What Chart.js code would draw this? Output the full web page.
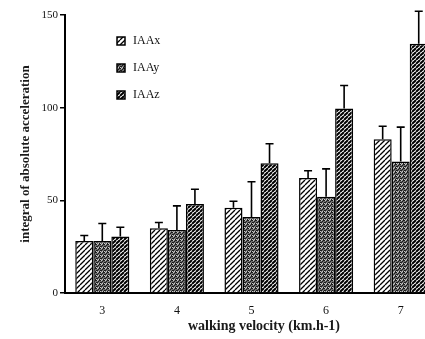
<!DOCTYPE html>
<html>
<head>
<meta charset="utf-8">
<script src="https://cdn.jsdelivr.net/npm/chart.js@4/dist/chart.umd.min.js"></script>
<style>
  html, body { margin: 0; padding: 0; background: #fff; overflow: hidden; }
  #wrap { width: 442px; height: 339px; position: relative; }
</style>
</head>
<body>
<div id="wrap"><canvas id="chart"></canvas></div>
<script>
// walking velocity categories
const velocities = ['3', '4', '5', '6', '7'];

// bar heights
const iaaX = [28, 35, 46, 62, 83];
const iaaY = [28, 34, 41, 52, 71];
const iaaZ = [30.5, 48, 70, 99.5, 134.5];

// top of the error bars
const iaaXErr = [31, 38, 49.5, 66, 90];
const iaaYErr = [37.5, 47, 60, 67, 89.5];
const iaaZErr = [35.5, 56, 80.5, 112, 152];

const seriesNames = ['IAAx', 'IAAy', 'IAAz'];
const yTicks = [0, 50, 100, 150];
const xTitle = 'walking velocity (km.h-1)';

// hatch / stipple fills like the scanned figure
function hatch(spacing, width, bg) {
  const c = document.createElement('canvas');
  c.width = spacing; c.height = spacing;
  const g = c.getContext('2d');
  g.fillStyle = bg;
  g.fillRect(0, 0, spacing, spacing);
  g.strokeStyle = '#000';
  g.lineWidth = width;
  g.beginPath();
  for (let k = -1; k <= 1; k++) {
    g.moveTo(k * spacing, spacing);
    g.lineTo(k * spacing + spacing, 0);
  }
  g.stroke();
  return g.createPattern(c, 'repeat');
}

function stipple() {
  const c = document.createElement('canvas');
  c.width = 4; c.height = 4;
  const g = c.getContext('2d');
  g.fillStyle = '#6e6e6e';
  g.fillRect(0, 0, 4, 4);
  g.fillStyle = '#1a1a1a';
  [[0, 0], [2, 1], [1, 2], [3, 3], [3, 0], [0, 2]].forEach(p => g.fillRect(p[0], p[1], 1, 1));
  g.fillStyle = '#c8c8c8';
  [[1, 0], [0, 3], [2, 3]].forEach(p => g.fillRect(p[0], p[1], 1, 1));
  return g.createPattern(c, 'repeat');
}

const fills = [hatch(5, 1.3, '#fff'), stipple(), hatch(4, 2, '#fff')];

const errorBars = {
  id: 'errorBars',
  afterDatasetsDraw(chart) {
    const ctx = chart.ctx;
    const y = chart.scales.y;
    ctx.save();
    ctx.strokeStyle = '#000';
    ctx.lineWidth = 1.6;
    chart.data.datasets.forEach((ds, i) => {
      chart.getDatasetMeta(i).data.forEach((bar, j) => {
        const top = y.getPixelForValue(ds.errTop[j]);
        ctx.beginPath();
        ctx.moveTo(bar.x, bar.y);
        ctx.lineTo(bar.x, top);
        ctx.moveTo(bar.x - 4, top);
        ctx.lineTo(bar.x + 4, top);
        ctx.stroke();
      });
    });
    ctx.restore();
  }
};

// legend block inside the plot + x title (the figure's title sits off-centre)
const boxLegend = {
  id: 'boxLegend',
  afterDraw(chart) {
    const ctx = chart.ctx;
    ctx.save();
    ctx.font = '12px "Liberation Serif"';
    ctx.textBaseline = 'middle';
    chart.data.datasets.forEach((ds, i) => {
      const ly = 41 + i * 27;
      ctx.fillStyle = ds.backgroundColor;
      ctx.fillRect(117, ly - 4, 8, 8);
      ctx.strokeStyle = '#000';
      ctx.lineWidth = 1.5;
      ctx.strokeRect(117, ly - 4, 8, 8);
      ctx.fillStyle = '#111';
      ctx.fillText(ds.label, 133, ly);
    });
    ctx.font = 'bold 14px "Liberation Serif"';
    ctx.textAlign = 'center';
    ctx.fillStyle = '#1a1a1a';
    ctx.fillText(xTitle, 264, 326);
    ctx.restore();
  }
};

const errs = [iaaXErr, iaaYErr, iaaZErr];
const vals = [iaaX, iaaY, iaaZ];

new Chart(document.getElementById('chart'), {
  type: 'bar',
  data: {
    labels: velocities,
    datasets: seriesNames.map((name, i) => ({
      label: name,
      data: vals[i],
      errTop: errs[i],
      backgroundColor: fills[i],
      borderColor: '#000',
      borderWidth: 1.5,
      borderSkipped: 'bottom',
      categoryPercentage: 0.725,
      barPercentage: 1
    }))
  },
  options: {
    responsive: true,
    maintainAspectRatio: false,
    animation: false,
    layout: { padding: { top: 15, right: 4, left: 18, bottom: 5 } },
    plugins: {
      legend: { display: false },
      tooltip: { enabled: false }
    },
    scales: {
      x: {
        afterFit: scale => { scale.height = 41; },
        grid: { display: false, drawTicks: false },
        border: { display: true, color: '#000', width: 2 },
        ticks: { color: '#111', padding: 11, font: { family: 'Liberation Serif', size: 12 } }
      },
      y: {
        min: 0,
        max: 150,
        afterBuildTicks: scale => { scale.ticks = yTicks.map(v => ({ value: v })); },
        afterFit: scale => { scale.width = 47; },
        grid: { display: true, drawOnChartArea: false, drawTicks: true, tickLength: 5, color: '#000', lineWidth: 1.5 },
        border: { display: true, color: '#000', width: 2 },
        ticks: { color: '#111', padding: 2, font: { family: 'Liberation Serif', size: 11 } },
        title: {
          display: true,
          text: 'integral of absolute acceleration',
          color: '#1a1a1a',
          padding: { top: 0, bottom: 4 },
          font: { family: 'Liberation Serif', size: 13, weight: 'bold' }
        }
      }
    }
  },
  plugins: [errorBars, boxLegend]
});
</script>
</body>
</html>
